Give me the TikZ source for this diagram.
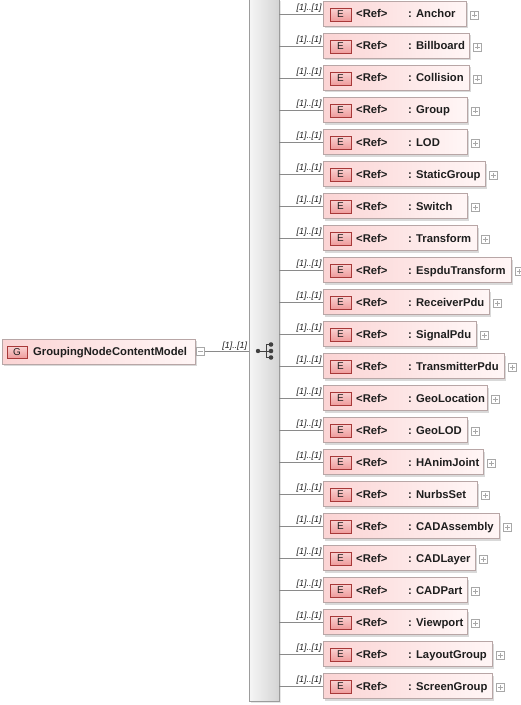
\documentclass[tikz,border=0pt]{standalone}
\usepackage{fontspec}
\setmainfont{Liberation Sans}
\usetikzlibrary{shadows}

\definecolor{refpink}{HTML}{FBD4D4}
\definecolor{refwhite}{HTML}{FFF6F6}
\definecolor{boxline}{HTML}{B8A6A6}
\definecolor{badgetop}{HTML}{FAD2D2}
\definecolor{badgebot}{HTML}{EE9C9C}
\definecolor{badgeline}{HTML}{A83838}
\definecolor{spineleft}{HTML}{F6F6F6}
\definecolor{spineright}{HTML}{D4D4D4}
\definecolor{spineline}{HTML}{9C9C9C}
\definecolor{connline}{HTML}{8A8A8A}
\definecolor{iconline}{HTML}{A8A8A8}
\definecolor{txt}{HTML}{1E1E1E}

\begin{document}
\begin{tikzpicture}[x=1bp,y=-1bp,
  refbox/.style={draw=boxline, line width=0.6bp, left color=refpink, right color=refwhite,
    minimum height=25bp, inner sep=0pt, anchor=west,
    drop shadow={shadow xshift=2bp, shadow yshift=-2bp, opacity=0.3}},
  badge/.style={draw=badgeline, line width=0.6bp, top color=badgetop, bottom color=badgebot,
    minimum width=21bp, minimum height=13bp, inner sep=0pt, text=txt,
    font=\fontsize{10}{10}\selectfont},
  lbl/.style={font=\bfseries\fontsize{11.3}{12}\selectfont, inner sep=0pt, anchor=base west, text=txt},
  mult/.style={font=\itshape\fontsize{9}{9}\selectfont, inner sep=1.2bp, text=txt},
  conn/.style={draw=connline, line width=0.6bp},
  iconbox/.style={draw=iconline, line width=0.5bp, fill=white, minimum size=8bp, inner sep=0pt},
  plusicon/.style={iconbox, path picture={
    \draw[iconline, line width=0.5bp] ([xshift=-2.5bp]path picture bounding box.center) -- ([xshift=2.5bp]path picture bounding box.center);
    \draw[iconline, line width=0.5bp] ([yshift=-2.5bp]path picture bounding box.center) -- ([yshift=2.5bp]path picture bounding box.center);}},
  minusicon/.style={iconbox, path picture={
    \draw[iconline, line width=0.5bp] ([xshift=-2.5bp]path picture bounding box.center) -- ([xshift=2.5bp]path picture bounding box.center);}},
  spine/.style={draw=spineline, line width=0.6bp, left color=spineleft, right color=spineright,
    minimum width=30bp, minimum height=702bp, inner sep=0pt,
    drop shadow={shadow xshift=2bp, shadow yshift=-2bp, opacity=0.2}}
]
\useasboundingbox (0,0) rectangle (521,705);

% sequence compositor
\node[spine] (seq) at (264,350) {};
\fill[txt!85] (258,351) circle (2.2bp);
\draw[txt!85, line width=1bp] (258,351) -- (266,351) (266,344.5) -- (266,357.5)
  (266,344.5) -- (271,344.5) (266,351) -- (271,351) (266,357.5) -- (271,357.5);
\foreach \dy in {344.5,351,357.5}
  \fill[txt!85] (271,\dy) circle (2.3bp);

% group
\node[refbox, minimum width=193bp] (grp) at (2,351.5) {};
\node[badge, minimum width=20bp, minimum height=12bp] (g) at ([xshift=15bp,yshift=-0.5bp]grp.west) {G};
\node[lbl] (gname) at ([xshift=31bp,yshift=-4bp]grp.west) {GroupingNodeContentModel};
\node[minusicon] (minus) at ([xshift=5bp]grp.east) {};
\draw[conn] (minus.east) -- node[mult, pos=1, above left] {[1]..[1]} (minus.east -| seq.west);

% referenced elements
\foreach \name/\w [count=\i from 0] in {Anchor/143, Billboard/146, Collision/146, Group/144,
    LOD/144, StaticGroup/162, Switch/144, Transform/154, EspduTransform/188, ReceiverPdu/166,
    SignalPdu/153, TransmitterPdu/181, GeoLocation/164, GeoLOD/144, HAnimJoint/160,
    NurbsSet/154, CADAssembly/176, CADLayer/152, CADPart/144, Viewport/144,
    LayoutGroup/169, ScreenGroup/169}{
  \pgfmathsetmacro\yy{14+32*\i}
  \node[refbox, minimum width=\w bp] (r\i) at (323,\yy) {};
  \node[badge] (e\i) at ([xshift=17.5bp,yshift=-0.5bp]r\i.west) {E};
  \node[lbl] (t\i) at ([xshift=33bp,yshift=-4bp]r\i.west) {<Ref>};
  \node[lbl] (n\i) at ([xshift=85bp,yshift=-4bp]r\i.west) {: \name};
  \node[plusicon] (p\i) at ([xshift=8bp,yshift=-1bp]r\i.east) {};
  \draw[conn] (r\i.west -| seq.east) -- node[mult, pos=1, above left] {[1]..[1]} (r\i.west);
}
\end{tikzpicture}
\end{document}
